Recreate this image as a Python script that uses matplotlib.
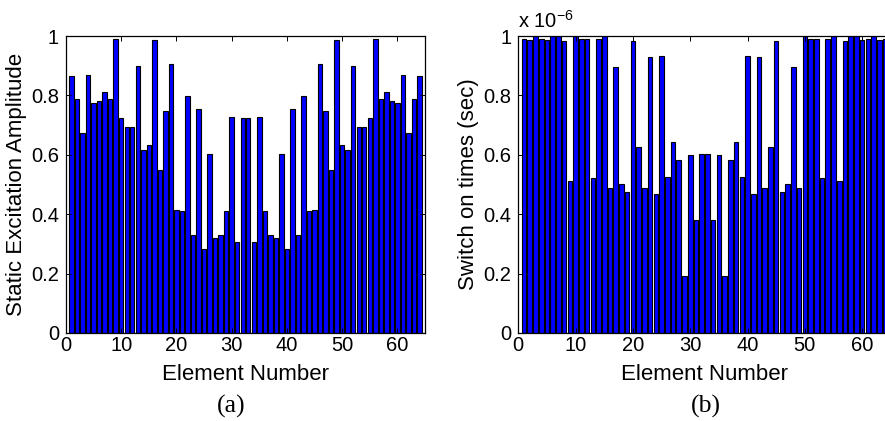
import matplotlib
matplotlib.use("Agg")
import matplotlib.pyplot as plt
import numpy as np
from matplotlib.ticker import FuncFormatter

plt.rcParams["font.family"] = ["Liberation Sans", "DejaVu Sans"]
plt.rcParams["font.size"] = 14.5

# --- element indices and values ---
elements = np.arange(1, 65)

static_amplitude = [
    0.865, 0.789, 0.675, 0.870, 0.773, 0.780, 0.813, 0.789,
    0.990, 0.723, 0.694, 0.694, 0.899, 0.615, 0.632, 0.985,
    0.550, 0.746, 0.905, 0.415, 0.411, 0.798, 0.330, 0.755,
    0.283, 0.602, 0.320, 0.330, 0.411, 0.726, 0.305, 0.723,
    0.723, 0.305, 0.726, 0.411, 0.330, 0.320, 0.602, 0.283,
    0.755, 0.330, 0.798, 0.411, 0.415, 0.905, 0.746, 0.550,
    0.985, 0.632, 0.615, 0.899, 0.694, 0.694, 0.723, 0.990,
    0.789, 0.813, 0.780, 0.773, 0.870, 0.675, 0.789, 0.865,
]

# switch-on times in microseconds
switch_on_us = [
    0.990, 0.985, 1.000, 0.990, 0.985, 1.000, 1.000, 0.982,
    0.512, 1.000, 0.990, 0.990, 0.522, 0.990, 1.000, 0.487,
    0.896, 0.503, 0.474, 0.983, 0.627, 0.487, 0.929, 0.468,
    0.933, 0.525, 0.643, 0.582, 0.192, 0.599, 0.380, 0.603,
    0.603, 0.380, 0.599, 0.192, 0.582, 0.643, 0.525, 0.933,
    0.468, 0.929, 0.487, 0.627, 0.983, 0.474, 0.503, 0.896,
    0.487, 1.000, 0.990, 0.990, 0.522, 0.990, 1.000, 0.512,
    0.982, 1.000, 1.000, 0.985, 0.990, 1.000, 0.985, 0.990,
]
switch_on = np.array(switch_on_us) * 1e-6

fig = plt.figure(figsize=(8.85, 4.21), dpi=100)
ax1 = fig.add_axes([66 / 885, 88 / 421, 359 / 885, 297 / 421])
ax2 = fig.add_axes([518.3 / 885, 88 / 421, 372.5 / 885, 297 / 421])


def style_axes(ax):
    ax.set_xlim(0, 65)
    ax.set_xticks([0, 10, 20, 30, 40, 50, 60])
    ax.tick_params(direction="in", length=3.5, width=0.7, top=True, right=True,
                   pad=2)
    ax.tick_params(axis="y", pad=5)
    for s in ax.spines.values():
        s.set_linewidth(0.9)
    ax.set_xlabel("Element Number", fontsize=16, labelpad=7)


# --- (a) static excitation amplitude ---
ax1.bar(elements, static_amplitude, width=0.8, color="#0000ff",
        edgecolor="black", linewidth=0.8)
ax1.set_ylim(0, 1)
ax1.set_yticks([0, 0.2, 0.4, 0.6, 0.8, 1])
ax1.set_yticklabels(["0", "0.2", "0.4", "0.6", "0.8", "1"])
style_axes(ax1)
ax1.set_ylabel("Static Excitation Amplitude", fontsize=16, labelpad=3)

# --- (b) switch on times ---
ax2.bar(elements, switch_on, width=0.8, color="#0000ff",
        edgecolor="black", linewidth=0.8)
ax2.set_ylim(0, 1e-6)
ax2.set_yticks(np.array([0, 0.2, 0.4, 0.6, 0.8, 1]) * 1e-6)
ax2.yaxis.set_major_formatter(FuncFormatter(lambda v, p: f"{v * 1e6:g}"))
style_axes(ax2)
ax2.set_ylabel("Switch on times (sec)", fontsize=16, labelpad=3)
ax2.text(0.0, 1.015, r"x 10$^{\mathregular{-6}}$", transform=ax2.transAxes,
         ha="left", va="bottom")

# --- panel captions ---
fig.text(231.5 / 885, 14.5 / 421, "(a)", ha="center", va="center",
         family="Liberation Serif", fontsize=18.5)
fig.text(706 / 885, 14.5 / 421, "(b)", ha="center", va="center",
         family="Liberation Serif", fontsize=18.5)

fig.savefig("out.png", dpi=100)
